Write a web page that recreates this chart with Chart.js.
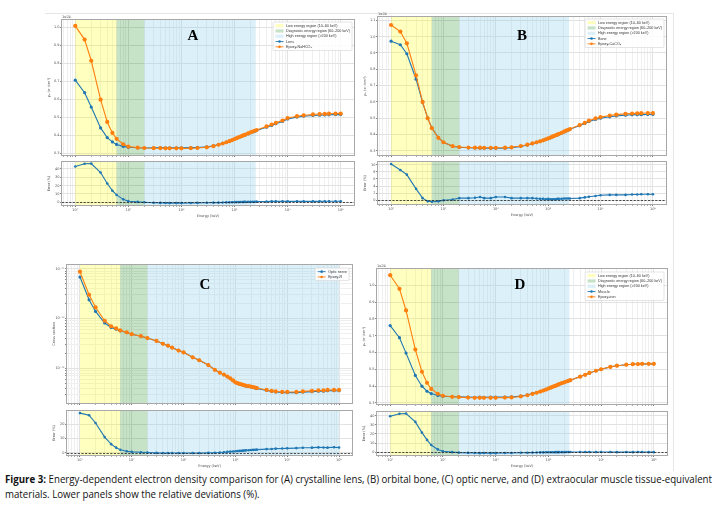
<!DOCTYPE html>
<html>
<head>
<meta charset="utf-8">
<script src="https://cdn.jsdelivr.net/npm/chart.js@4.4.1/dist/chart.umd.min.js"></script>
<style>
html, body { margin: 0; padding: 0; background: #fff; }
#page { position: relative; width: 718px; height: 510px; overflow: hidden; background: #fff; }
#page canvas { position: absolute; z-index: 1; }
.tag { position: absolute; z-index: 5; font: bold 15px "Liberation Serif", "DejaVu Serif", serif; color: #000; transform: translate(-50%, -50%); }
.cap { position: absolute; left: 5px; font-size: 10.5px; font-family: "Open Sans", "Liberation Sans", sans-serif; white-space: nowrap; transform-origin: 0 0; color: #111; }
.rule { position: absolute; background: #e6e6e6; }
</style>
</head>
<body>
<div id="page">
  <div class="rule" style="left:45px;top:13px;width:628px;height:1px"></div>
  <div class="rule" style="left:673px;top:13px;width:1px;height:458px"></div>
  <div class="tag" style="left:193px;top:35px">A</div>
  <div class="tag" style="left:522px;top:35px">B</div>
  <div class="tag" style="left:205px;top:284px">C</div>
  <div class="tag" style="left:520px;top:284px">D</div>
  <div class="cap" id="cap1" style="top:472px"><b>Figure 3:</b> Energy-dependent electron density comparison for (A) crystalline lens, (B) orbital bone, (C) optic nerve, and (D) extraocular muscle tissue-equivalent</div>
  <div class="cap" id="cap2" style="top:487px">materials. Lower panels show the relative deviations (%).</div>
</div>
<script>
// energies in keV (same grid for all four panels)
const energyKeV = [10,15,20,30,40,50,60,80,100,150,200,300,400,500,600,800,1000,1500,2000,
  3000,4000,5000,6000,7000,8000,9000,10000,11000,12000,13000,14000,15000,16000,
  18000,20000,22000,24000,26000,40000,50000,60000,80000,100000,
  150000,200000,300000,400000,500000,600000,800000,1000000];

// A - crystalline lens (x1e24 e/cm3)
const lensTissue = [0.707,0.637,0.557,0.441,0.387,0.363,0.349,0.338,0.333,0.330,
  0.329,0.330,0.331,0.330,0.330,0.330,0.330,0.331,0.332,
  0.335,0.341,0.348,0.355,0.362,0.367,0.373,0.379,0.383,0.388,0.392,0.396,0.399,0.402,
  0.408,0.414,0.418,0.422,0.426, 0.445,0.455,0.464,0.477,0.491,
  0.501,0.506,0.510,0.512,0.513,0.514,0.515,0.515];
const lensEpoxy = [1.009,0.933,0.815,0.598,0.474,0.413,0.380,0.350,0.337,0.331,
  0.329,0.328,0.328,0.327,0.327,0.327,0.327,0.328,0.329,
  0.333,0.339,0.347,0.354,0.361,0.367,0.373,0.379,0.384,0.389,0.393,0.397,0.401,0.404,
  0.410,0.416,0.421,0.425,0.429, 0.449,0.460,0.469,0.482,0.496,
  0.506,0.511,0.516,0.518,0.519,0.520,0.521,0.521];
const lensError = [43.0,46.3,46.5,35.8,22.5,13.9,8.8,3.5,1.3,0.4,
  0.0,-0.6,-0.8,-0.9,-1.0,-1.0,-1.0,-0.9,-0.8,
  -0.6,-0.5,-0.4,-0.3,-0.2,-0.1,0.0,0.1,0.2,0.2,0.3,0.3,0.4,0.4,
  0.5,0.5,0.6,0.6,0.7, 0.9,1.0,1.0,1.1,1.1,
  1.0,1.0,1.1,1.1,1.2,1.2,1.2,1.2];

// B - orbital bone
const boneTissue = [0.972,0.950,0.895,0.739,0.596,0.502,0.441,0.381,0.353,0.328,
  0.322,0.319,0.318,0.317,0.317,0.317,0.316,0.317,0.320,
  0.328,0.336,0.344,0.351,0.358,0.364,0.370,0.375,0.381,0.386,0.391,0.395,0.398,0.402,
  0.409,0.416,0.422,0.427,0.432, 0.455,0.468,0.480,0.493,0.500,
  0.509,0.514,0.519,0.521,0.522,0.522,0.523,0.523];
const boneEpoxy = [1.071,1.031,0.959,0.763,0.600,0.500,0.439,0.380,0.353,0.329,
  0.324,0.321,0.320,0.320,0.319,0.319,0.319,0.320,0.322,
  0.330,0.338,0.346,0.353,0.359,0.365,0.371,0.377,0.382,0.387,0.392,0.396,0.400,0.404,
  0.411,0.418,0.424,0.429,0.434, 0.458,0.472,0.485,0.499,0.507,
  0.517,0.522,0.527,0.529,0.530,0.531,0.532,0.532];
const boneError = [10.2,8.5,7.2,3.2,0.6,-0.3,-0.4,-0.3,0.0,0.2,
  0.6,0.6,0.7,0.9,0.6,0.6,0.9,0.9,0.6,
  0.6,0.6,0.6,0.5,0.4,0.4,0.3,0.4,0.3,0.3,0.3,0.3,0.4,0.4,
  0.4,0.5,0.5,0.5,0.5, 0.6,0.8,1.0,1.2,1.4,
  1.5,1.5,1.5,1.6,1.6,1.7,1.7,1.7];

// C - optic nerve (cross section)
const nerveTissue = [68.4e-24,23.8e-24,13.9e-24,8.14e-24,6.60e-24,6.11e-24,5.67e-24,5.24e-24,4.82e-24,4.42e-24,
  4.05e-24,3.55e-24,3.11e-24,2.85e-24,2.60e-24,2.28e-24,2.09e-24,1.665e-24,1.455e-24,
  1.162e-24,0.932e-24,0.814e-24,0.743e-24,0.677e-24,0.619e-24,0.565e-24,0.517e-24,0.495e-24,0.479e-24,0.469e-24,0.459e-24,0.448e-24,0.438e-24,
  0.430e-24,0.420e-24,0.411e-24,0.402e-24,0.392e-24, 0.357e-24,0.341e-24,0.333e-24,0.325e-24,0.324e-24,
  0.324e-24,0.331e-24,0.338e-24,0.345e-24,0.346e-24,0.354e-24,0.353e-24,0.353e-24];
const nerveEpoxy = [87.5e-24,30.1e-24,16.8e-24,9.03e-24,7.00e-24,6.32e-24,5.78e-24,5.29e-24,4.84e-24,4.43e-24,
  4.05e-24,3.54e-24,3.10e-24,2.84e-24,2.59e-24,2.27e-24,2.08e-24,1.66e-24,1.45e-24,
  1.16e-24,0.931e-24,0.815e-24,0.745e-24,0.680e-24,0.623e-24,0.570e-24,0.522e-24,0.500e-24,0.485e-24,0.475e-24,0.465e-24,0.455e-24,0.445e-24,
  0.437e-24,0.428e-24,0.419e-24,0.410e-24,0.400e-24, 0.366e-24,0.350e-24,0.342e-24,0.334e-24,0.334e-24,
  0.334e-24,0.342e-24,0.350e-24,0.358e-24,0.358e-24,0.366e-24,0.366e-24,0.366e-24];
const nerveError = [28.0,26.5,21.0,11.0,6.0,3.5,2.0,1.0,0.5,0.2,
  0.0,-0.2,-0.3,-0.3,-0.3,-0.3,-0.3,-0.3,-0.3,
  -0.2,-0.1,0.1,0.3,0.5,0.7,0.8,1.0,1.1,1.2,1.3,1.4,1.5,1.6,
  1.7,1.8,1.9,2.0,2.1, 2.5,2.6,2.8,2.9,3.0,
  3.2,3.4,3.5,3.7,3.6,3.5,3.8,3.6];

// D - extraocular muscle
const muscleTissue = [0.760,0.688,0.596,0.463,0.399,0.369,0.355,0.344,0.339,0.336,
  0.336,0.334,0.333,0.334,0.333,0.334,0.334,0.334,0.335,
  0.340,0.347,0.355,0.361,0.368,0.374,0.380,0.386,0.390,0.395,0.399,0.403,0.407,0.411,
  0.417,0.422,0.427,0.431,0.435, 0.456,0.467,0.478,0.491,0.500,
  0.514,0.521,0.527,0.530,0.531,0.532,0.532,0.532];
const muscleEpoxy = [1.060,0.979,0.850,0.617,0.485,0.419,0.383,0.354,0.342,0.336,
  0.334,0.331,0.330,0.330,0.330,0.330,0.330,0.331,0.332,
  0.338,0.345,0.353,0.360,0.367,0.373,0.379,0.385,0.390,0.395,0.399,0.403,0.407,0.411,
  0.417,0.422,0.427,0.431,0.435, 0.456,0.467,0.478,0.491,0.500,
  0.514,0.521,0.527,0.530,0.531,0.532,0.532,0.532];
const muscleError = [39.5,42.2,42.5,33.3,21.5,13.5,7.8,3.0,1.0,0.0,
  -0.5,-0.8,-1.0,-1.1,-1.0,-1.1,-1.1,-1.0,-0.9,
  -0.7,-0.6,-0.5,-0.4,-0.3,-0.3,-0.2,-0.2,-0.1,-0.1,-0.1,0.0,0.0,0.0,
  0.0,0.0,0.1,0.1,0.1, 0.1,0.1,0.1,0.1,0.1,
  0.1,0.0,0.1,0.0,0.1,0.1,0.0,0.0];

// shaded energy bands (keV)
const bandLow = [10, 60];
const bandDiag = [60, 200];
const bandHigh = [200, 25000];
const bandHighC = [200, 1000000];
const bandNames = ['Low energy region (10\u201360 keV)', 'Diagnostic energy region (60\u2013200 keV)', 'High energy region (>200 keV)'];

// tick values
const densityTicks = [0.3, 0.4, 0.5, 0.6, 0.7, 0.8, 0.9, 1.0];
const densityTicksB = [0.3, 0.4, 0.5, 0.6, 0.7, 0.8, 0.9, 1.0, 1.1];
const errorTicks40 = [0, 10, 20, 30, 40];
const errorTicksB = [0, 2, 4, 6, 8, 10];
const errorTicksC = [0, 10, 20];

const BLUE = '#1f77b4', ORANGE = '#ff7f0e';
const BAND_COLORS = ['rgba(255,255,0,0.25)', 'rgba(0,128,0,0.22)', 'rgba(135,206,235,0.3)'];
const GRID_MAJOR = '#e2e2e2', GRID_MINOR = '#efefef';
const TXT = '#555';
const FONT = { family: '"DejaVu Sans", sans-serif', size: 3.5 };
const X_MIN = Math.pow(10, 0.75), X_MAX = Math.pow(10, 6.25);

const page = document.getElementById('page');

const SUP = { '-': '\u207b', '0': '\u2070', '1': '\u00b9', '2': '\u00b2', '3': '\u00b3', '4': '\u2074', '5': '\u2075', '6': '\u2076', '7': '\u2077', '8': '\u2078', '9': '\u2079' };
const pow10Label = v => '10' + String(Math.round(Math.log10(v))).split('').map(c => SUP[c]).join('');

function logTicks(min, max) {
  const out = [];
  for (let e = -26; e <= 7; e++) {
    for (let m = 1; m <= 9; m++) {
      const v = m * Math.pow(10, e);
      if (v > min * 1.0001 && v < max * 0.9999) out.push({ value: v, major: m === 1 });
    }
  }
  return out;
}

const series = (ys) => energyKeV.map((x, i) => ({ x, y: ys[i] }));

// order 0 is drawn last, so the epoxy curve sits on top like in matplotlib
function lineSet(label, ys, color, r, order) {
  return {
    label, data: series(ys), borderColor: color, backgroundColor: color, order,
    borderWidth: 1.1, pointRadius: r, pointBorderWidth: 0, tension: 0
  };
}

function decor(spec) {
  return {
    id: 'decor',
    beforeDatasetsDraw(chart) {
      const { ctx, chartArea: a, scales } = chart;
      ctx.save();
      ctx.beginPath(); ctx.rect(a.left, a.top, a.width, a.height); ctx.clip();
      spec.bands.forEach((b, k) => {
        const x0 = scales.x.getPixelForValue(b[0]);
        const x1 = scales.x.getPixelForValue(b[1]);
        ctx.fillStyle = BAND_COLORS[k];
        ctx.fillRect(x0, a.top, x1 - x0, a.height);
      });
      ctx.restore();
    },
    afterDatasetsDraw(chart) {
      const { ctx, chartArea: a, scales } = chart;
      ctx.save();
      if (spec.zeroLine) {
        const y0 = Math.round(scales.y.getPixelForValue(0)) + 0.5;
        ctx.strokeStyle = '#222'; ctx.lineWidth = 0.8; ctx.setLineDash([2.2, 1.4]);
        ctx.beginPath(); ctx.moveTo(a.left, y0); ctx.lineTo(a.right, y0); ctx.stroke();
        ctx.setLineDash([]);
      }
      ctx.strokeStyle = '#a8a8a8'; ctx.lineWidth = 1;
      ctx.strokeRect(a.left - 0.5, a.top - 0.5, a.width + 1, a.height + 1);
      if (spec.offset) {
        ctx.fillStyle = TXT; ctx.font = '3.5px "DejaVu Sans", sans-serif';
        ctx.textBaseline = 'bottom'; ctx.fillText(spec.offset, a.left, a.top - 1.5);
      }
      if (spec.legend) {
        const L = spec.legend;
        ctx.font = '3.7px "Liberation Sans", sans-serif';
        const tw = Math.max(...L.items.map(it => ctx.measureText(it.label).width));
        const bw = tw + 15, bh = L.items.length * L.rowH + 2;
        const bx = a.right - L.inset - bw, by = a.top + L.inset;
        ctx.fillStyle = 'rgba(255,255,255,0.85)'; ctx.strokeStyle = '#d4d4d4'; ctx.lineWidth = 0.6;
        ctx.beginPath(); ctx.roundRect(bx, by, bw, bh, 1); ctx.fill(); ctx.stroke();
        L.items.forEach((it, k) => {
          const cy = by + 1 + L.rowH * (k + 0.5);
          if (it.band !== undefined) {
            ctx.fillStyle = BAND_COLORS[it.band];
            ctx.fillRect(bx + 2.5, cy - 1.6, 8, 3.2);
          } else {
            ctx.strokeStyle = it.color; ctx.lineWidth = 0.9;
            ctx.beginPath(); ctx.moveTo(bx + 2.5, cy); ctx.lineTo(bx + 10.5, cy); ctx.stroke();
            ctx.fillStyle = it.color;
            ctx.beginPath(); ctx.arc(bx + 6.5, cy, 1.3, 0, Math.PI * 2); ctx.fill();
          }
          ctx.fillStyle = '#333'; ctx.textBaseline = 'middle';
          ctx.fillText(it.label, bx + 13, cy);
        });
      }
      ctx.restore();
    }
  };
}

function plot(box, pad, spec) {
  const cv = document.createElement('canvas');
  const w = box.r - box.l + pad.l + pad.r, h = box.b - box.t + pad.t + pad.b;
  cv.width = w; cv.height = h;
  cv.style.left = (box.l - pad.l) + 'px'; cv.style.top = (box.t - pad.t) + 'px';
  cv.style.width = w + 'px'; cv.style.height = h + 'px';
  page.appendChild(cv);
  const gridColor = c => (c.tick && c.tick.major ? GRID_MAJOR : GRID_MINOR);
  return new Chart(cv, {
    type: 'line',
    data: { datasets: spec.datasets },
    options: {
      responsive: false, animation: false, events: [],
      layout: { padding: { left: 0, right: pad.r, top: pad.t, bottom: 0 } },
      plugins: { legend: { display: false }, tooltip: { enabled: false } },
      scales: {
        x: {
          type: 'logarithmic', min: X_MIN, max: X_MAX,
          afterBuildTicks: s => { s.ticks = logTicks(X_MIN, X_MAX); },
          afterFit: s => { s.height = pad.b; },
          border: { display: false },
          grid: { color: gridColor, lineWidth: 1, drawTicks: true, tickLength: 2,
                  tickColor: c => (c.tick && c.tick.major ? '#777' : '#aaa') },
          ticks: { display: spec.showX, autoSkip: false, maxRotation: 0, padding: 0.5, font: FONT, color: TXT,
                   callback: (v, i, t) => (t[i].major ? pow10Label(v) : '') },
          title: { display: spec.showX, text: 'Energy (keV)', font: FONT, color: TXT, padding: { top: 0.5, bottom: 0 } }
        },
        y: {
          type: spec.yLog ? 'logarithmic' : 'linear', min: spec.yMin, max: spec.yMax,
          afterBuildTicks: s => {
            s.ticks = spec.yLog ? logTicks(spec.yMin, spec.yMax) : spec.yTicks.map(v => ({ value: v, major: true }));
          },
          afterFit: s => { s.width = pad.l; },
          border: { display: false },
          grid: { color: gridColor, lineWidth: 1, drawTicks: true, tickLength: 2, tickColor: '#888' },
          ticks: { autoSkip: false, padding: 0.5, font: FONT, color: TXT,
                   callback: spec.yLog ? (v, i, t) => (t[i].major ? pow10Label(v) : '') : spec.yFmt },
          title: { display: true, text: spec.yTitle, font: FONT, color: TXT, padding: 0 }
        }
      }
    },
    plugins: [decor(spec)]
  });
}

const MAIN_PAD = { l: 15, r: 3, t: 8, b: 3 };
const ERR_PAD = { l: 15, r: 3, t: 2, b: 13 };
const fmt1 = v => v.toFixed(1);
const fmt0 = v => String(v);
const RHO = '\u03c1\u2091 (e\u207b/cm\u00b3)';

function regionLegend(tissueLabel, epoxyLabel, inset) {
  return {
    inset, rowH: 5.3,
    items: [
      { band: 0, label: bandNames[0] }, { band: 1, label: bandNames[1] }, { band: 2, label: bandNames[2] },
      { color: BLUE, label: tissueLabel }, { color: ORANGE, label: epoxyLabel }
    ]
  };
}

function panel(cfg) {
  plot(cfg.main, MAIN_PAD, {
    datasets: [lineSet(cfg.tissueLabel, cfg.tissue, BLUE, 1.6, 1), lineSet(cfg.epoxyLabel, cfg.epoxy, ORANGE, 2.1, 0)],
    bands: cfg.bands, showX: false, yLog: cfg.yLog, yMin: cfg.yMin, yMax: cfg.yMax,
    yTicks: cfg.yTicks, yFmt: fmt1, yTitle: cfg.yTitle, offset: cfg.offset, legend: cfg.legend
  });
  plot(cfg.err, ERR_PAD, {
    datasets: [lineSet(cfg.tissueLabel, cfg.error, BLUE, 1.3, 0)],
    bands: cfg.bands, showX: true, yMin: cfg.eMin, yMax: cfg.eMax,
    yTicks: cfg.eTicks, yFmt: fmt0, yTitle: 'Error (%)', zeroLine: true
  });
}

panel({
  main: { l: 62, t: 20, r: 355, b: 156 }, err: { l: 62, t: 160, r: 355, b: 205 },
  tissue: lensTissue, epoxy: lensEpoxy, error: lensError,
  tissueLabel: 'Lens', epoxyLabel: 'Epoxy-NaHCO\u2083',
  bands: [bandLow, bandDiag, bandHigh], yMin: 0.29, yMax: 1.042, yTicks: densityTicks,
  yTitle: RHO, offset: '1e24', legend: regionLegend('Lens', 'Epoxy-NaHCO\u2083', 2),
  eMin: -3.3, eMax: 48.4, eTicks: errorTicks40
});
panel({
  main: { l: 378, t: 17, r: 667, b: 156 }, err: { l: 378, t: 160, r: 667, b: 204 },
  tissue: boneTissue, epoxy: boneEpoxy, error: boneError,
  tissueLabel: 'Bone', epoxyLabel: 'Epoxy-CaCO\u2083',
  bands: [bandLow, bandDiag, bandHigh], yMin: 0.275, yMax: 1.12, yTicks: densityTicksB,
  yTitle: RHO, offset: '1e24', legend: regionLegend('Bone', 'Epoxy-CaCO\u2083', 2),
  eMin: -1.05, eMax: 10.75, eTicks: errorTicksB
});
panel({
  main: { l: 67, t: 265, r: 353, b: 404 }, err: { l: 67, t: 409, r: 353, b: 455 },
  tissue: nerveTissue, epoxy: nerveEpoxy, error: nerveError,
  tissueLabel: 'Optic nerve', epoxyLabel: 'Epoxy-R',
  bands: [bandLow, bandDiag, bandHighC], yLog: true, yMin: Math.pow(10, -24.614), yMax: Math.pow(10, -21.923),
  yTitle: 'Cross section',
  legend: { inset: 3, rowH: 5.3, items: [{ color: BLUE, label: 'Optic nerve' }, { color: ORANGE, label: 'Epoxy-R' }] },
  eMin: -1.7, eMax: 29.5, eTicks: errorTicksC
});
panel({
  main: { l: 377, t: 269, r: 668, b: 405 }, err: { l: 377, t: 410, r: 668, b: 455 },
  tissue: muscleTissue, epoxy: muscleEpoxy, error: muscleError,
  tissueLabel: 'Muscle', epoxyLabel: 'Epoxy-iron',
  bands: [bandLow, bandDiag, bandHigh], yMin: 0.293, yMax: 1.097, yTicks: densityTicks,
  yTitle: RHO, offset: '1e24', legend: regionLegend('Muscle', 'Epoxy-iron', 3),
  eMin: -3.15, eMax: 44.2, eTicks: errorTicks40
});

// squeeze the caption so that the first line spans the page width, like the original
const cap1 = document.getElementById('cap1'), cap2 = document.getElementById('cap2');
const k = 707 / cap1.getBoundingClientRect().width;
cap1.style.transform = cap2.style.transform = 'scaleX(' + k.toFixed(4) + ')';
</script>
</body>
</html>
